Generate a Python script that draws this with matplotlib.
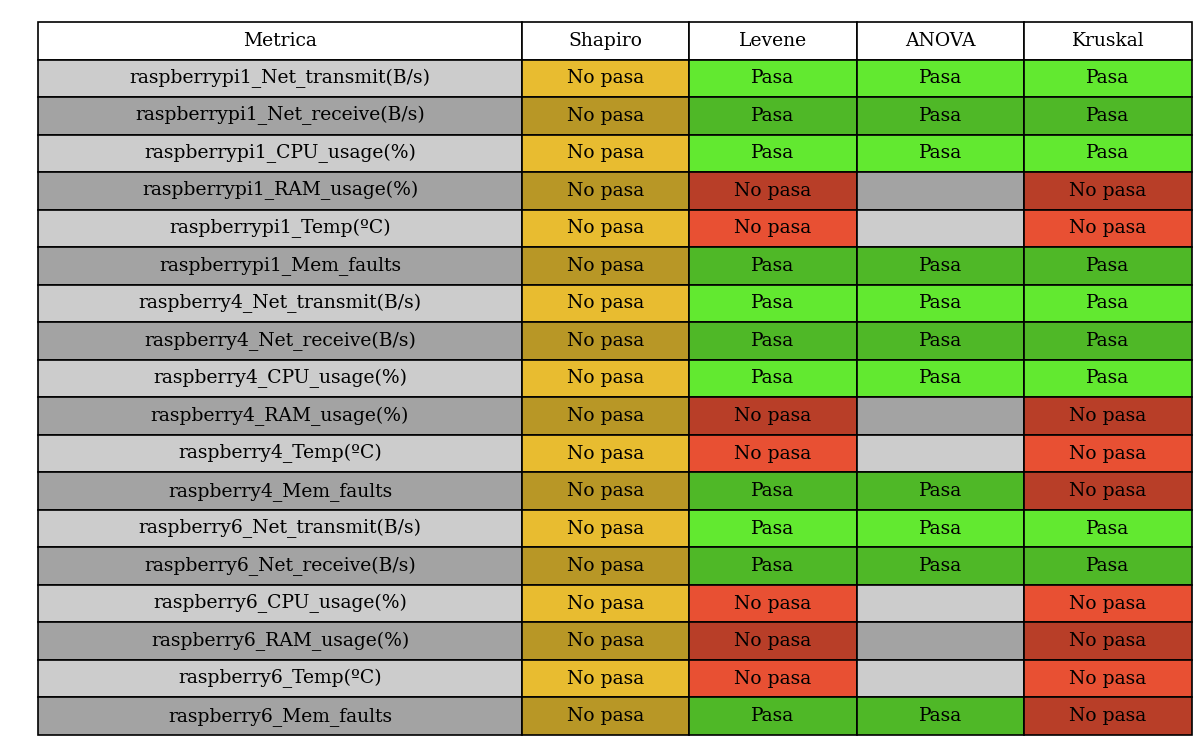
import matplotlib
matplotlib.use("Agg")
import matplotlib.pyplot as plt

columns = ["Metrica", "Shapiro", "Levene", "ANOVA", "Kruskal"]
metrics = ["raspberrypi1_Net_transmit(B/s)", "raspberrypi1_Net_receive(B/s)", "raspberrypi1_CPU_usage(%)",
           "raspberrypi1_RAM_usage(%)", "raspberrypi1_Temp(ºC)", "raspberrypi1_Mem_faults",
           "raspberry4_Net_transmit(B/s)", "raspberry4_Net_receive(B/s)", "raspberry4_CPU_usage(%)",
           "raspberry4_RAM_usage(%)", "raspberry4_Temp(ºC)", "raspberry4_Mem_faults",
           "raspberry6_Net_transmit(B/s)", "raspberry6_Net_receive(B/s)", "raspberry6_CPU_usage(%)",
           "raspberry6_RAM_usage(%)", "raspberry6_Temp(ºC)", "raspberry6_Mem_faults"]
shapiro = ["No pasa"] * 18
levene = ["Pasa", "Pasa", "Pasa", "No pasa", "No pasa", "Pasa",
          "Pasa", "Pasa", "Pasa", "No pasa", "No pasa", "Pasa",
          "Pasa", "Pasa", "No pasa", "No pasa", "No pasa", "Pasa"]
anova = ["Pasa", "Pasa", "Pasa", "", "", "Pasa",
         "Pasa", "Pasa", "Pasa", "", "", "Pasa",
         "Pasa", "Pasa", "", "", "", "Pasa"]
kruskal = ["Pasa", "Pasa", "Pasa", "No pasa", "No pasa", "Pasa",
           "Pasa", "Pasa", "Pasa", "No pasa", "No pasa", "No pasa",
           "Pasa", "Pasa", "No pasa", "No pasa", "No pasa", "No pasa"]

def color(val, i, col):
    light = i % 2 == 0
    if col == 0 or val == "":
        return "#cccccc" if light else "#a3a3a3"
    if col == 1:
        return "#e8bc30" if light else "#b89726"
    if val == "Pasa":
        return "#62e930" if light else "#4fb827"
    return "#e85033" if light else "#b83e28"

cells = [list(r) for r in zip(metrics, shapiro, levene, anova, kruskal)]
colors = [[color(v, i, j) for j, v in enumerate(r)] for i, r in enumerate(cells)]

fig = plt.figure(figsize=(12, 7.5), dpi=100)
ax = fig.add_axes([0, 0, 1, 1])
ax.axis("off")
tab = ax.table(cellText=cells, colLabels=columns, cellColours=colors,
               cellLoc="center", colLoc="center",
               bbox=[38/1200, 1-735/750, 1154/1200, 713/750])
tab.auto_set_font_size(False)
widths = [484, 167, 168, 167, 168]
for (r, c), cell in tab.get_celld().items():
    cell.set_width(widths[c] / 1200)
    cell.set_linewidth(1.2)
    cell.get_text().set_fontsize(13.5)
    cell.get_text().set_fontfamily("DejaVu Serif")
fig.savefig("out.png", dpi=100)
